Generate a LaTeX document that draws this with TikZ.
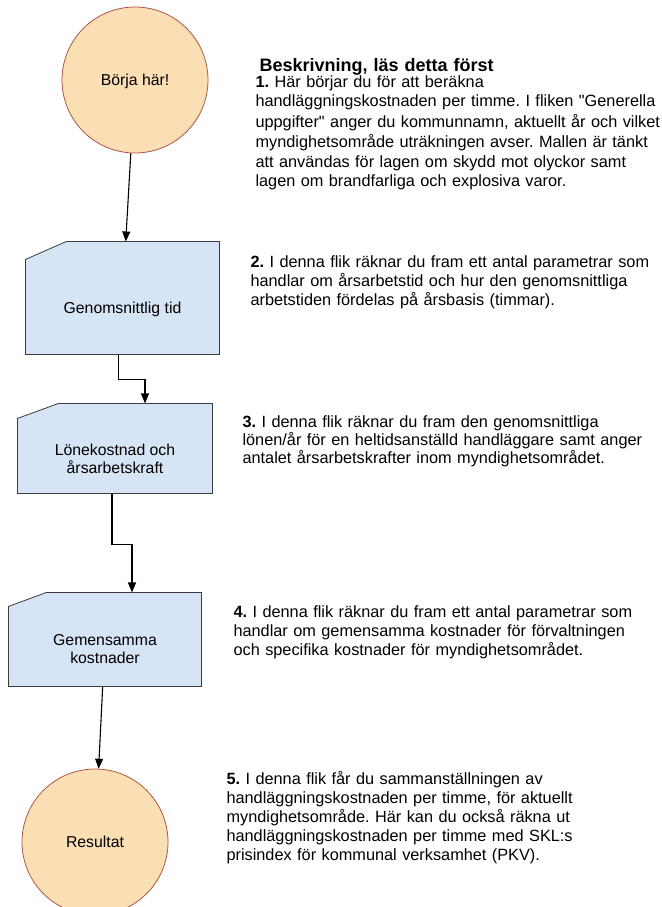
\documentclass[tikz,border=0pt]{standalone}
\usepackage{fontspec}
\setmainfont{Liberation Sans}[Ligatures=TeXOff]
\frenchspacing
\usetikzlibrary{arrows.meta}
\usetikzlibrary{backgrounds}
\definecolor{startfill}{RGB}{250,222,180}
\definecolor{startline}{RGB}{175,85,65}
\definecolor{flikfill}{RGB}{214,228,246}
\definecolor{flikline}{RGB}{60,60,60}
\tikzset{main node/.style={circle,fill=startfill,draw=startline,line width=0.8pt,minimum size=146pt,inner sep=0pt,font=\fontsize{15.8}{18}\selectfont},
	flik node/.style={rectangle,inner sep=0pt,align=center,font=\fontsize{15.8}{18}\selectfont},
	flik line/.style={fill=flikfill,draw=flikline,line width=0.8pt},
	text node/.style={anchor=base west,inner sep=0pt,text width=430pt,align=left,font=\fontsize{16.3}{19}\selectfont},}
\begin{document}
\begin{tikzpicture}[->, >={Triangle[width=8pt,length=10pt]}, x=1pt, y=-1pt, line width=1.1pt]
	\useasboundingbox (0,0) rectangle (661,907);
	% flödet till vänster
	\node[main node] (start) at (135,80) {\rule{0pt}{14pt}Börja här!};
	\node[flik node, minimum width=193pt, minimum height=112pt] (tid) at (122.5,298) {\rule{0pt}{35pt}Genomsnittlig tid};
	\node[flik node, minimum width=194pt, minimum height=89pt] (lon) at (115,448.5) {\rule{0pt}{33pt}Lönekostnad och\\årsarbetskraft};
	\node[flik node, minimum width=192pt, minimum height=93pt] (gem) at (105,639.5) {\rule{0pt}{31pt}Gemensamma\\kostnader};
	\node[main node] (result) at (95,842) {Resultat};

	% flikarna med avskuret hörn
	\begin{scope}[on background layer]
		\foreach \n/\cx/\cy in {tid/41/18, lon/41/15, gem/38/14}
		\path[flik line, -] ([yshift=-\cy pt]\n.north west) -- ([xshift=\cx pt]\n.north west) -- (\n.north east) -- (\n.south east) -- (\n.south west) -- cycle;
	\end{scope}

	\path[draw]
	(start) edge (tid)
	(gem) edge (result);
	\draw ([xshift=-4pt]tid.south) -- ++(0,25) -| ([xshift=30pt]lon.north);
	\draw ([xshift=-3pt]lon.south) -- ++(0,51) -| ([xshift=27pt]gem.north);

	% beskrivningen till höger
	\node[text node, font=\fontsize{18}{21}\selectfont\bfseries] (rubrik) at (259,71) {Beskrivning, läs detta först};
	\node[text node, font=\fontsize{16.3}{20}\selectfont] (steg1) at (255,87) {\textbf{1.} Här börjar du för att beräkna\\
		handläggningskostnaden per timme. I fliken "Generella\\
		uppgifter" anger du kommunnamn, aktuellt år och vilket\\
		myndighetsområde uträkningen avser. Mallen är tänkt\\
		att användas för lagen om skydd mot olyckor samt\\
		lagen om brandfarliga och explosiva varor.};
	\node[text node] (steg2) at (250,267) {\textbf{2.} I denna flik räknar du fram ett antal parametrar som\\
		handlar om årsarbetstid och hur den genomsnittliga\\
		arbetstiden fördelas på årsbasis (timmar).};
	\node[text node, font=\fontsize{16.3}{18}\selectfont] (steg3) at (242,427) {\textbf{3.} I denna flik räknar du fram den genomsnittliga\\
		lönen/år för en heltidsanställd handläggare samt anger\\
		antalet årsarbetskrafter inom myndighetsområdet.};
	\node[text node] (steg4) at (233,617) {\textbf{4.} I denna flik räknar du fram ett antal parametrar som\\
		handlar om gemensamma kostnader för förvaltningen\\
		och specifika kostnader för myndighetsområdet.};
	\node[text node] (steg5) at (226,784) {\textbf{5.} I denna flik får du sammanställningen av\\
		handläggningskostnaden per timme, för aktuellt\\
		myndighetsområde. Här kan du också räkna ut\\
		handläggningskostnaden per timme med SKL:s\\
		prisindex för kommunal verksamhet (PKV).};
\end{tikzpicture}
\end{document}
